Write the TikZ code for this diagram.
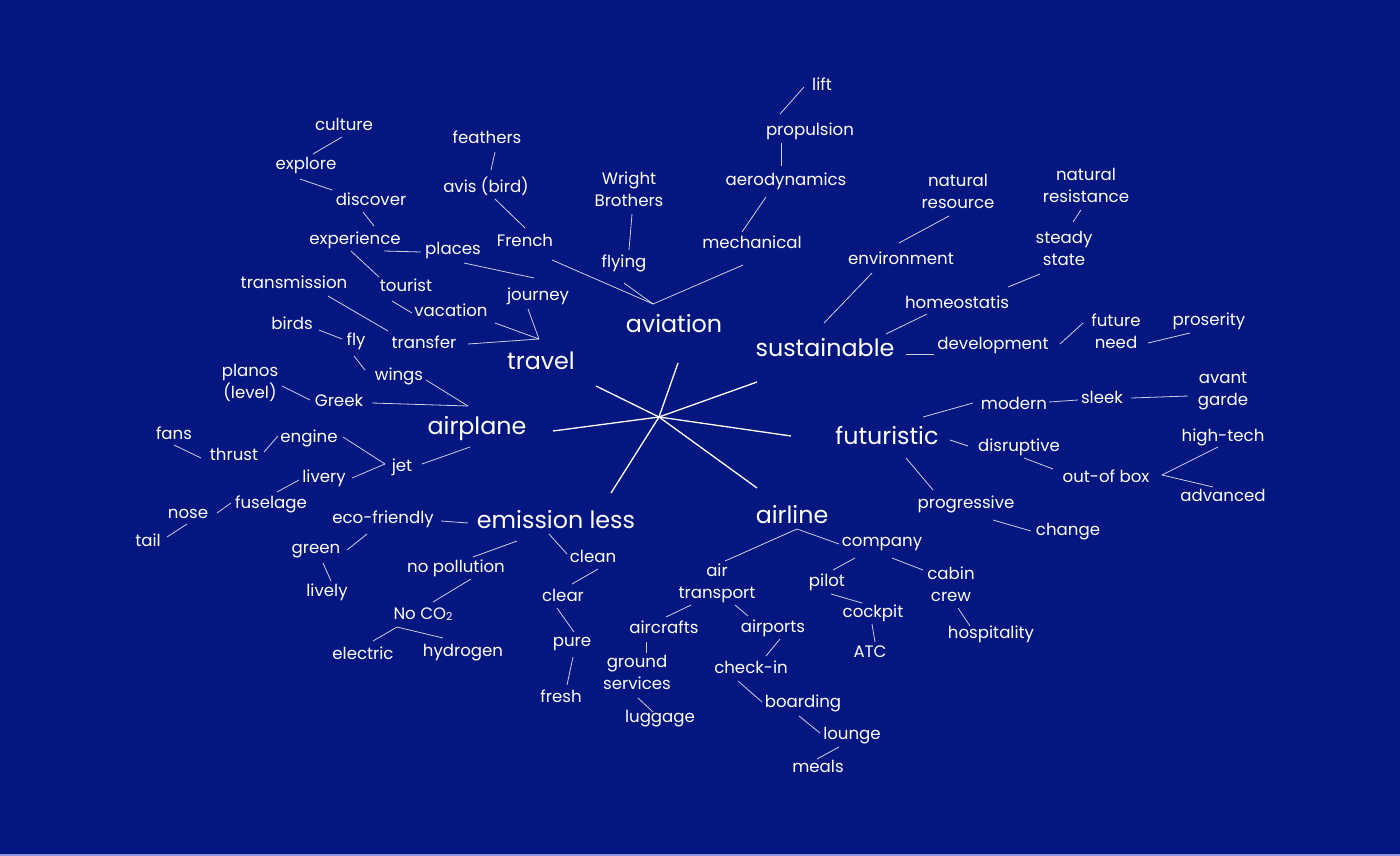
\documentclass[tikz,border=0pt]{standalone}
\usepackage{fontspec}
\setmainfont{Poppins}
\usetikzlibrary{calc}
\definecolor{bgblue}{RGB}{4,22,128}
\definecolor{edgeline}{RGB}{140,150,225}
\tikzset{
  sm/.style={text=white,font=\fontsize{16.6}{22}\selectfont,align=center,inner sep=0pt},
  big/.style={text=white,font=\fontsize{23.8}{28}\selectfont,inner sep=0pt},
  br/.style={draw=white,draw opacity=0.8,line width=0.8pt},
  star/.style={draw=white,line width=1.3pt}
}
\newcommand\edgeln[4]{\draw[br] ($(#1)+(#2)$) -- ($(#3)+(#4)$);}
\newcommand\subtwo{\raisebox{-0.15ex}{\fontsize{11}{11}\selectfont 2}}
\begin{document}
\begin{tikzpicture}[x=1pt,y=-1pt]
\fill[bgblue] (0,0) rectangle (1400,856);
\path[use as bounding box] (0,0) rectangle (1400,856);
\fill[edgeline] (0,854) rectangle (1400,856);
% main words
\node[big] (travel) at (541,361) {travel};
\node[big] (aviation) at (674,324) {aviation};
\node[big] (sustainable) at (825,348) {sustainable};
\node[big] (airplane) at (477,429) {airplane};
\node[big] (futuristic) at (887,436) {futuristic};
\node[big] (emission) at (556,520) {emission less};
\node[big] (airline) at (792,515) {airline};
% travel
\node[sm] (culture) at (344,124) {culture};
\node[sm] (feathers) at (487,137) {feathers};
\node[sm] (explore) at (306,166) {explore};
\node[sm] (avis) at (486,186) {avis (bird)};
\node[sm] (discover) at (371,199) {discover};
\node[sm] (experience) at (355,240) {experience};
\node[sm] (french) at (525,240) {French};
\node[sm] (places) at (453,251) {places};
\node[sm] (transmission) at (294,282) {transmission};
\node[sm] (tourist) at (406,285) {tourist};
\node[sm] (journey) at (538,296) {journey};
\node[sm] (vacation) at (451,310) {vacation};
\node[sm] (birds) at (292,323) {birds};
\node[sm] (fly) at (356,341) {fly};
\node[sm] (transfer) at (424,342) {transfer};
% aviation
\node[sm] (lift) at (822,84) {lift};
\node[sm] (propulsion) at (810,131) {propulsion};
\node[sm] (wright) at (629,189) {Wright\\Brothers};
\node[sm] (aero) at (786,181) {aerodynamics};
\node[sm] (mechanical) at (752,242) {mechanical};
\node[sm] (flying) at (624,263) {flying};
% sustainable
\node[sm] (natres) at (958,191) {natural\\resource};
\node[sm] (natresist) at (1086,185) {natural\\resistance};
\node[sm] (environment) at (901,258) {environment};
\node[sm] (steady) at (1064,248) {steady\\state};
\node[sm] (homeo) at (957,302) {homeostatis};
\node[sm] (future) at (1116,331) {future\\need};
\node[sm] (proserity) at (1209,321) {proserity};
\node[sm] (development) at (993,346) {development};
% airplane
\node[sm] (planos) at (250,383) {planos\\(level)};
\node[sm] (wings) at (399,376) {wings};
\node[sm] (greek) at (339,400) {Greek};
\node[sm] (fans) at (174,433) {fans};
\node[sm] (engine) at (309,438) {engine};
\node[sm] (thrust) at (234,454) {thrust};
\node[sm] (jet) at (402,467) {jet};
\node[sm] (livery) at (324,478) {livery};
\node[sm] (fuselage) at (271,504) {fuselage};
\node[sm] (nose) at (188,514) {nose};
\node[sm] (tail) at (148,540) {tail};
% emission less
\node[sm] (eco) at (383,519) {eco-friendly};
\node[sm] (green) at (316,551) {green};
\node[sm] (nopoll) at (456,568) {no pollution};
\node[sm] (clean) at (593,556) {clean};
\node[sm] (lively) at (327,592) {lively};
\node[sm] (clear) at (563,595) {clear};
\node[sm] (noco) at (423,614) {No CO\subtwo};
\node[sm] (electric) at (363,653) {electric};
\node[sm] (hydrogen) at (463,653) {hydrogen};
\node[sm] (pure) at (572,644) {pure};
\node[sm] (fresh) at (561,696) {fresh};
% airline
\node[sm] (company) at (882,544) {company};
\node[sm] (airtransport) at (717,583) {air\\transport};
\node[sm] (pilot) at (827,582) {pilot};
\node[sm] (cabin) at (951,584) {cabin\\crew};
\node[sm] (cockpit) at (873,613) {cockpit};
\node[sm] (aircrafts) at (664,627) {aircrafts};
\node[sm] (airports) at (773,628) {airports};
\node[sm] (hospitality) at (991,634) {hospitality};
\node[sm] (atc) at (870,652) {ATC};
\node[sm] (ground) at (637,672) {ground\\services};
\node[sm] (checkin) at (751,667) {check-in};
\node[sm] (luggage) at (660,719) {luggage};
\node[sm] (boarding) at (803,703) {boarding};
\node[sm] (lounge) at (852,736) {lounge};
\node[sm] (meals) at (818,766) {meals};
% futuristic
\node[sm] (modern) at (1014,403) {modern};
\node[sm] (sleek) at (1102,397) {sleek};
\node[sm] (avant) at (1223,391) {avant\\garde};
\node[sm] (disruptive) at (1019,447) {disruptive};
\node[sm] (hightech) at (1223,437) {high-tech};
\node[sm] (outofbox) at (1106,476) {out-of box};
\node[sm] (advanced) at (1223,495) {advanced};
\node[sm] (progressive) at (966,504) {progressive};
\node[sm] (change) at (1068,532) {change};
% hubs
\coordinate (travelhub) at ($(travel)+(-2,-22)$);
\coordinate (avhub) at ($(aviation)+(-21,-20)$);
\coordinate (planehub) at ($(airplane)+(-9,-23)$);
\coordinate (jethub) at ($(jet)+(-17,-3)$);
\coordinate (alhub) at ($(airline)+(5,14)$);
\coordinate (cohub) at ($(noco)+(-26,13)$);
\coordinate (oobhub) at ($(outofbox)+(56,-1)$);
\coordinate (center) at (659,417);
% star
\draw[star] (center) -- ($(aviation)+(4,39)$);
\draw[star] (center) -- ($(travel)+(55,25)$);
\draw[star] (center) -- ($(sustainable)+(-68,34)$);
\draw[star] (center) -- ($(airplane)+(76,2)$);
\draw[star] (center) -- ($(futuristic)+(-96,0)$);
\draw[star] (center) -- ($(emission)+(55,-27)$);
\draw[star] (center) -- ($(airline)+(-35,-27)$);
% travel edges
\edgeln{culture}{-2,13}{explore}{7,-12}
\edgeln{explore}{-6,13}{discover}{-39,-9}
\edgeln{discover}{-8,13}{experience}{19,-14}
\edgeln{experience}{29,11}{places}{-32,1}
\edgeln{feathers}{8,15}{avis}{5,-16}
\edgeln{avis}{9,13}{french}{0,-12}
\edgeln{french}{27,20}{avhub}{0,0}
\edgeln{places}{11,12}{journey}{-4,-18}
\edgeln{experience}{-4,11}{tourist}{-27,-8}
\edgeln{tourist}{-14,16}{vacation}{-39,3}
\edgeln{transmission}{34,14}{transfer}{-36,-11}
\edgeln{birds}{27,7}{fly}{-14,-2}
\edgeln{journey}{-10,13}{travelhub}{0,0}
\edgeln{vacation}{44,13}{travelhub}{0,0}
\edgeln{transfer}{44,2}{travelhub}{0,0}
% aviation edges
\edgeln{lift}{-18,3}{propulsion}{-30,-17}
\edgeln{propulsion}{-29,12}{aero}{-5,-15}
\edgeln{aero}{-20,16}{mechanical}{-10,-10}
\edgeln{wright}{3,25}{flying}{5,-13}
\edgeln{flying}{0,20}{avhub}{0,0}
\edgeln{mechanical}{-9,23}{avhub}{0,0}
% sustainable edges
\edgeln{environment}{-29,15}{sustainable}{-1,-25}
\edgeln{natres}{-9,25}{environment}{-2,-15}
\edgeln{natresist}{-5,25}{steady}{9,-26}
\edgeln{steady}{-24,26}{homeo}{51,-15}
\edgeln{homeo}{-30,12}{sustainable}{61,-14}
\edgeln{sustainable}{81,6}{development}{-59,8}
\edgeln{development}{67,-2}{future}{-33,-8}
\edgeln{future}{32,12}{proserity}{-19,12}
% airplane edges
\edgeln{fly}{-2,15}{wings}{-34,-6}
\edgeln{wings}{27,4}{planehub}{0,0}
\edgeln{greek}{33,3}{planehub}{0,0}
\edgeln{planos}{32,3}{greek}{-29,0}
\edgeln{fans}{0,12}{thrust}{-33,4}
\edgeln{thrust}{30,-2}{engine}{-31,-2}
\edgeln{engine}{34,-1}{jethub}{0,0}
\edgeln{livery}{28,0}{jethub}{0,0}
\edgeln{jet}{20,-3}{airplane}{-7,18}
\edgeln{livery}{-25,2}{fuselage}{6,-12}
\edgeln{fuselage}{-40,-1}{nose}{29,-1}
\edgeln{nose}{-1,10}{tail}{19,-3}
% emission edges
\edgeln{eco}{58,2}{emission}{-88,3}
\edgeln{eco}{-16,15}{green}{31,-1}
\edgeln{green}{7,12}{lively}{4,-11}
\edgeln{emission}{-39,21}{nopoll}{17,-11}
\edgeln{nopoll}{15,11}{noco}{10,-12}
\edgeln{cohub}{0,0}{electric}{10,-12}
\edgeln{cohub}{0,0}{hydrogen}{-20,-15}
\edgeln{emission}{-7,14}{clean}{-26,-2}
\edgeln{clean}{5,13}{clear}{9,-11}
\edgeln{clear}{-6,13}{pure}{2,-12}
\edgeln{pure}{1,13}{fresh}{6,-11}
% airline edges
\edgeln{alhub}{0,0}{airtransport}{8,-22}
\edgeln{alhub}{0,0}{company}{-43,0}
\edgeln{company}{-27,14}{pilot}{6,-12}
\edgeln{company}{10,14}{cabin}{-28,-14}
\edgeln{pilot}{4,12}{cockpit}{-11,-10}
\edgeln{cockpit}{-1,11}{atc}{5,-10}
\edgeln{cabin}{7,24}{hospitality}{-21,-8}
\edgeln{airtransport}{-26,22}{aircrafts}{2,-10}
\edgeln{airtransport}{18,22}{airports}{-25,-12}
\edgeln{aircrafts}{-18,15}{ground}{9,-19}
\edgeln{ground}{1,26}{luggage}{-7,-7}
\edgeln{airports}{7,11}{checkin}{15,-11}
\edgeln{checkin}{-13,14}{boarding}{-41,-1}
\edgeln{boarding}{-4,13}{lounge}{-32,-3}
\edgeln{lounge}{-13,11}{meals}{-1,-7}
% futuristic edges
\edgeln{futuristic}{36,-19}{modern}{-41,0}
\edgeln{modern}{35,-1}{sleek}{-24,3}
\edgeln{sleek}{29,1}{avant}{-35,5}
\edgeln{futuristic}{63,4}{disruptive}{-51,-1}
\edgeln{disruptive}{5,11}{outofbox}{-53,-7}
\edgeln{oobhub}{0,0}{hightech}{-5,10}
\edgeln{oobhub}{0,0}{advanced}{-10,-8}
\edgeln{futuristic}{19,22}{progressive}{-33,-14}
\edgeln{progressive}{27,16}{change}{-37,-1}
\end{tikzpicture}
\end{document}
